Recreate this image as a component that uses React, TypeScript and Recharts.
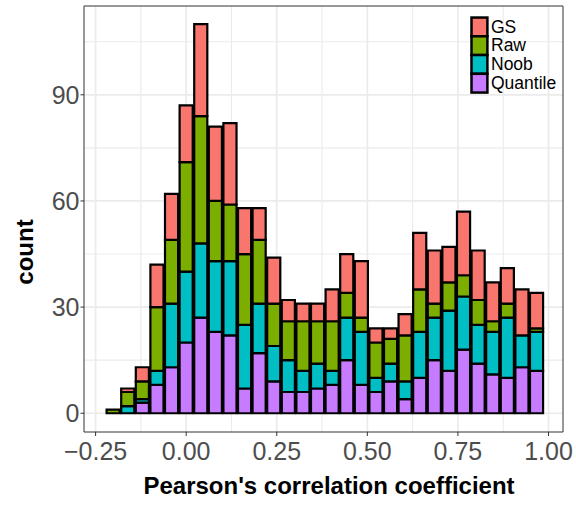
import React from 'react';
import { BarChart, Bar, XAxis, YAxis, CartesianGrid, ReferenceArea, Legend } from 'recharts';

// bin centres of the histogram (Pearson's r)
const binCenters = [
  -0.2023, -0.162, -0.1217, -0.0814, -0.0411, -0.0008, 0.0395, 0.0798, 0.1201, 0.1604,
  0.2006, 0.2409, 0.2812, 0.3215, 0.3618, 0.4021, 0.4424, 0.4827, 0.523, 0.5633,
  0.6035, 0.6438, 0.6841, 0.7244, 0.7647, 0.805, 0.8453, 0.8856, 0.9259, 0.9662,
];

// counts per bin, one list per normalisation method
const quantile = [0, 0, 3, 8, 13, 20, 27, 23, 22, 7, 17, 9, 6, 6, 7, 8, 15, 8, 6, 9, 4, 10, 15, 12, 18, 14, 11, 10, 13, 12];
const noob = [0, 2, 1, 4, 18, 20, 21, 20, 21, 18, 14, 10, 9, 6, 7, 4, 12, 15, 4, 5, 5, 13, 12, 17, 15, 11, 12, 17, 9, 11];
const raw = [1, 4, 5, 18, 18, 31, 36, 17, 16, 20, 18, 12, 11, 14, 12, 14, 7, 4, 10, 7, 13, 12, 4, 8, 6, 7, 3, 4, 0, 1];
const gs = [0, 1, 4, 12, 13, 16, 26, 21, 23, 13, 9, 13, 6, 5, 5, 9, 11, 16, 4, 3, 6, 16, 15, 10, 18, 14, 11, 10, 13, 10];

// stacking order: first one at the bottom
const seriesNames = ['Quantile', 'Noob', 'Raw', 'GS'];
const seriesColors = ['#C77CFF', '#00BFC4', '#7CAE00', '#F8766D'];

const xTicks = [-0.25, 0, 0.25, 0.5, 0.75, 1];
const xMinor = [-0.125, 0.125, 0.375, 0.625, 0.875];
const yTicks = [0, 30, 60, 90];
const yMinor = [15, 45, 75, 105];

const xDomain = [-0.282, 1.04];
const yDomain = [-5.3, 115.1];

const FONT = "'Liberation Sans', Arial, Helvetica, sans-serif";
const W = 576;
const H = 506;
const LEFT = 84;
const RIGHT = 13;

const data = binCenters.map((x, i) => ({
  x,
  Quantile: quantile[i],
  Noob: noob[i],
  Raw: raw[i],
  GS: gs[i],
}));

const plotWidth = W - LEFT - RIGHT;
const barWidth = (plotWidth * (binCenters[1] - binCenters[0])) / (xDomain[1] - xDomain[0]);

const formatX = (v: number) => v.toFixed(2).replace('-', '\u2212');

// legend like ggplot: GS on top, Quantile at the bottom
const renderLegend = () => {
  const order = [...seriesNames].reverse();
  const colors = [...seriesColors].reverse();
  const row = 18.75;
  return (
    <svg width={100} height={84} style={{ display: 'block' }}>
      {order.map((name, i) => (
        <g key={name}>
          <rect x={3.5} y={3.55 + i * row} width={15.9} height={row} fill={colors[i]} stroke="#000" strokeWidth={2.5} />
          <text x={23} y={18.5 + i * row} fontSize={17.5} fontFamily={FONT} fill="#000">
            {name}
          </text>
        </g>
      ))}
    </svg>
  );
};

export default function App() {
  return (
    <div style={{ position: 'absolute', left: 0, top: 0, width: W, height: H, background: '#fff' }}>
      <BarChart
        width={W}
        height={H}
        data={data}
        margin={{ top: 6, right: RIGHT, bottom: 34, left: 0 }}
        barCategoryGap={0}
        barGap={0}
      >
        <CartesianGrid horizontalValues={yMinor} verticalValues={xMinor} stroke="#EBEBEB" strokeWidth={1.1} />
        <CartesianGrid horizontalValues={yTicks} verticalValues={xTicks} stroke="#EBEBEB" strokeWidth={1.7} />
        <XAxis
          dataKey="x"
          type="number"
          domain={xDomain}
          allowDataOverflow
          ticks={xTicks}
          tickFormatter={formatX}
          height={40}
          axisLine={false}
          tickLine={{ stroke: '#333', strokeWidth: 1 }}
          tickSize={4}
          tickMargin={6}
          tick={{ fill: '#4D4D4D', fontSize: 25, fontFamily: FONT }}
          label={{
            content: () => (
              <text x={329} y={494} textAnchor="middle" fontSize={24} fontWeight="bold" fontFamily={FONT} fill="#000">
                Pearson's correlation coefficient
              </text>
            ),
          }}
        />
        <YAxis
          type="number"
          domain={yDomain}
          allowDataOverflow
          ticks={yTicks}
          width={LEFT}
          axisLine={false}
          tickLine={{ stroke: '#333', strokeWidth: 1 }}
          tickSize={3.5}
          tickMargin={1}
          tick={{ fill: '#4D4D4D', fontSize: 25, fontFamily: FONT }}
          label={{
            content: () => (
              <text
                x={33}
                y={252}
                transform="rotate(-90 33 252)"
                textAnchor="middle"
                fontSize={24}
                fontWeight="bold"
                fontFamily={FONT}
                fill="#000"
              >
                count
              </text>
            ),
          }}
        />
        {seriesNames.map((name, i) => (
          <Bar
            key={name}
            dataKey={name}
            stackId="hist"
            fill={seriesColors[i]}
            stroke="#000"
            strokeWidth={2.2}
            barSize={barWidth}
            isAnimationActive={false}
          />
        ))}
        <ReferenceArea
          x1={xDomain[0]}
          x2={xDomain[1]}
          y1={yDomain[0]}
          y2={yDomain[1]}
          fill="none"
          stroke="#333"
          strokeWidth={1}
        />
        <Legend
          layout="vertical"
          align="center"
          verticalAlign="middle"
          content={renderLegend}
          wrapperStyle={{ left: 468, top: 14, width: 100 }}
        />
      </BarChart>
    </div>
  );
}
